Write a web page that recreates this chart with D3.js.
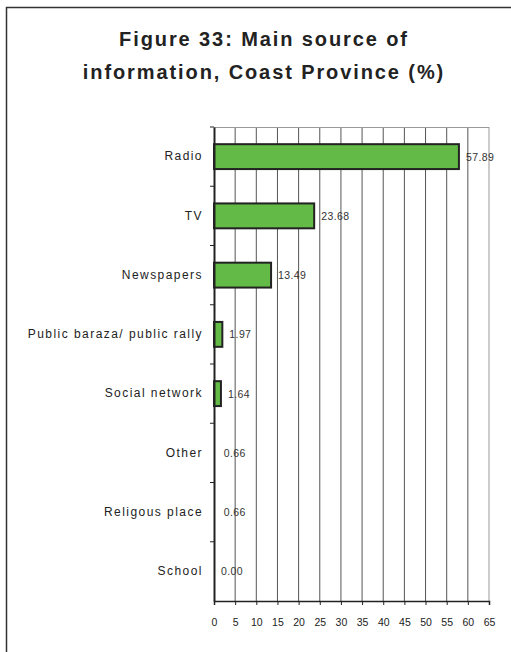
<!DOCTYPE html>
<html><head><meta charset="utf-8">
<script src="https://cdn.jsdelivr.net/npm/d3@7"></script>
<style>body{margin:0;background:#fff}svg{display:block}</style>
</head><body>
<script>
const categories = ["Radio","TV","Newspapers","Public baraza/ public rally","Social network","Other","Religous place","School"];
const values = [57.89,23.68,13.49,1.97,1.64,0.66,0.66,0.00];
const valueLabels = ["57.89","23.68","13.49","1.97","1.64","0.66","0.66","0.00"];
const xTicks = [0,5,10,15,20,25,30,35,40,45,50,55,60,65];
const titleLines = ["Figure 33: Main source of","information, Coast Province (%)"];

const W=511,H=652;
const FONT="Liberation Sans, Arial, sans-serif";
const svg=d3.select("body").append("svg").attr("width",W).attr("height",H);
svg.append("rect").attr("x",6.5).attr("y",7.5).attr("width",W+20).attr("height",H+20)
  .attr("fill","none").attr("stroke","#333").attr("stroke-width",1.5);

svg.selectAll("text.title").data(titleLines).enter().append("text")
  .attr("x",264).attr("y",(d,i)=>46+i*33).attr("text-anchor","middle")
  .attr("font-family",FONT).attr("font-weight","bold")
  .attr("font-size",20).attr("letter-spacing",1.9).attr("fill","#222").text(d=>d);

const L=214,R=489,T=127,B=601;
const x=d3.scaleLinear().domain([0,65]).range([L,R]);
const y=d3.scaleBand().domain(categories).range([T,B]).paddingInner(0.58).paddingOuter(0.29);
const yb=d3.scaleBand().domain(categories).range([T,B]);

// gridlines
svg.selectAll("line.grid").data(xTicks.slice(1)).enter().append("line")
  .attr("x1",d=>x(d)).attr("x2",d=>x(d)).attr("y1",T).attr("y2",B)
  .attr("stroke",d=>d===65?"#999":"#555").attr("stroke-width",1);
svg.append("line").attr("x1",L).attr("x2",R).attr("y1",T+0.5).attr("y2",T+0.5).attr("stroke","#999");

// bars
svg.selectAll("rect.bar").data(values).enter().append("rect")
  .attr("x",x(0)).attr("y",(d,i)=>y(categories[i]))
  .attr("width",d=>x(d)-x(0)).attr("height",y.bandwidth())
  .attr("fill",d=>d>1?"#63ba46":"none").attr("stroke",d=>d>1?"#222":"none").attr("stroke-width",2);

// value labels
svg.selectAll("text.val").data(values).enter().append("text")
  .attr("x",d=>x(d)+7).attr("y",(d,i)=>y(categories[i])+y.bandwidth()/2+4)
  .attr("font-family",FONT).attr("font-size",10.5).attr("letter-spacing",0.4)
  .attr("fill","#333").text((d,i)=>valueLabels[i]);

// y axis
const ya=d3.axisLeft(yb).tickSize(0).tickPadding(11);
const gy=svg.append("g").attr("transform",`translate(${L},0)`).call(ya);
gy.select(".domain").attr("stroke","#222").attr("stroke-width",2);
gy.selectAll("text").attr("font-family",FONT).attr("font-size",12)
  .attr("letter-spacing",1.45).attr("fill","#222");
// ticks at band boundaries
svg.selectAll("line.ytick").data(categories).enter().append("line")
  .attr("x1",L-4).attr("x2",L).attr("y1",d=>yb(d)).attr("y2",d=>yb(d)).attr("stroke","#222");

// x axis
const xa=d3.axisBottom(x).tickValues(xTicks).tickSize(4).tickPadding(14);
const gx=svg.append("g").attr("transform",`translate(0,${B})`).call(xa);
gx.select(".domain").attr("stroke","#222").attr("stroke-width",1.5);
gx.selectAll("line").attr("stroke","#222");
gx.selectAll("text").attr("font-family",FONT).attr("font-size",10.5).attr("fill","#222");
</script>
</body></html>
